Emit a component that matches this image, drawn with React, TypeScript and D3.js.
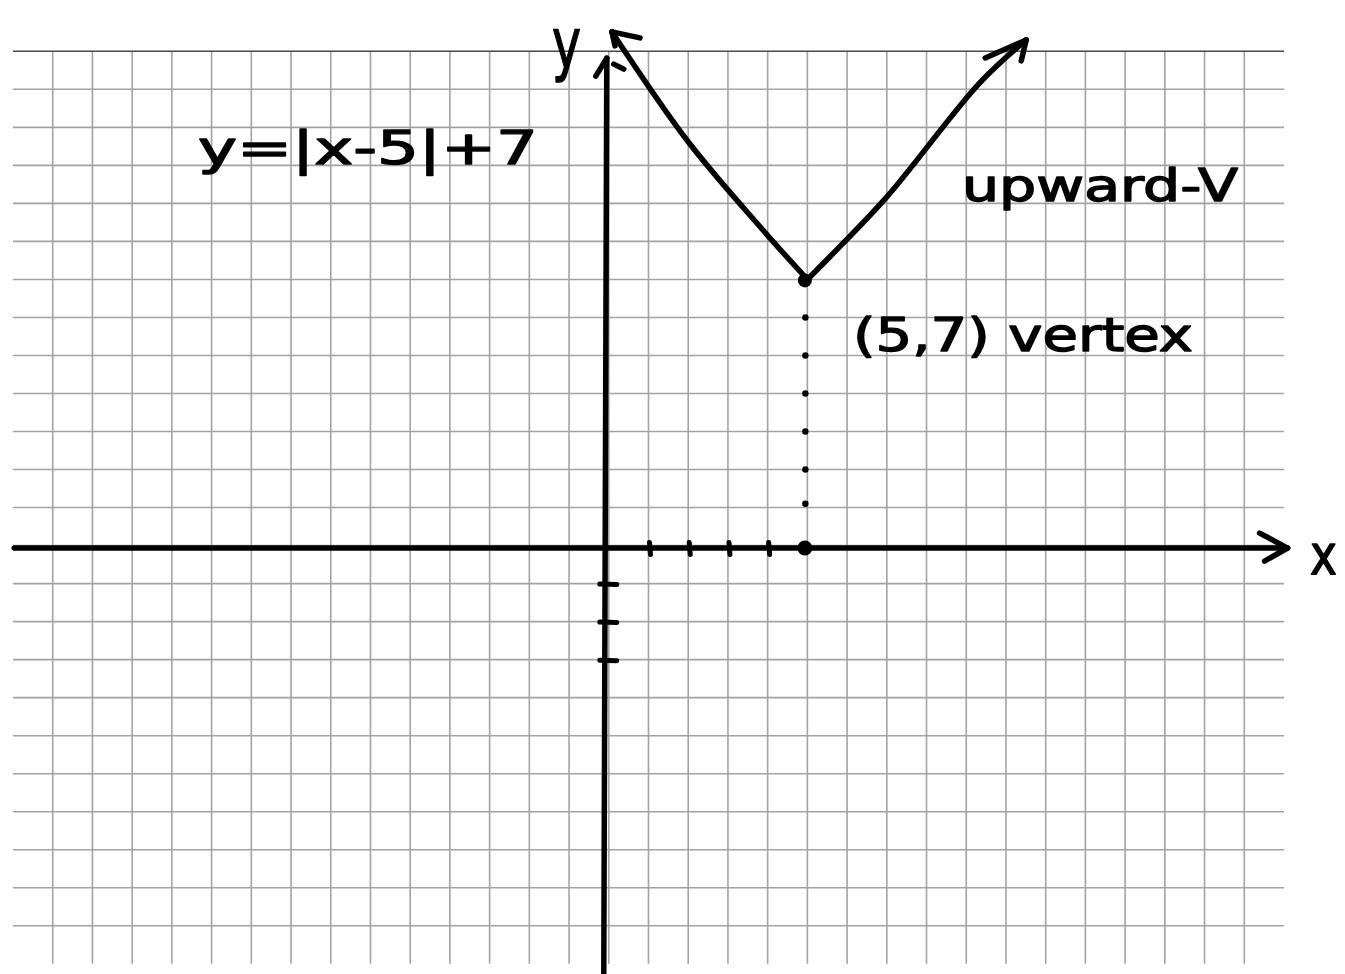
import React from "react";
import * as d3 from "d3";

const W = 1345;
const H = 974;

// grid / coordinate ranges (one grid cell = 1 unit)
const xDomain: [number, number] = [-15, 17];
const yDomain: [number, number] = [-11, 13];
const gridXs = d3.range(-14, 17); // vertical grid lines
const gridYs = d3.range(-10, 14); // horizontal grid lines

// the hand-drawn V of y = |x-5| + 7
const vertex: [number, number] = [5, 7];
const leftArm: [number, number][] = [
  [5, 7],
  [3.88, 8.3],
  [2.0, 10.62],
  [0.08, 13.51],
];
const rightArm: [number, number][] = [
  [5, 7],
  [5.56, 7.59],
  [7.0, 9.17],
  [9.34, 12.17],
  [10.51, 13.3],
];

// axes extents
const xAxisExtent: [number, number] = [-14.97, 17.09];
const yAxisExtent: [number, number] = [-11.3, 12.82];

// tick marks
const xTicks = [1, 2, 3, 4];
const yTicks = [-1, -2, -3];
const dropDots = [6, 5, 4, 3, 2, 1.1];

// labels
const equationLabel = "y=|x-5|+7";
const shapeLabel = "upward-V";
const vertexLabel = "(5,7) vertex";
const xAxisLabel = "x";
const yAxisLabel = "y";

const FONT = "'DejaVu Sans', 'Noto Sans', sans-serif";

export default function App() {
  const x = d3.scaleLinear().domain(xDomain).range([13, 1284]);
  const y = d3.scaleLinear().domain(yDomain).range([963.8, 51.3]);

  const line = d3
    .line<[number, number]>()
    .x((d) => x(d[0]))
    .y((d) => y(d[1]))
    .curve(d3.curveCatmullRom.alpha(0.5));

  const stroke = "#000";
  const sw = 5.5;

  const leftTip = leftArm[leftArm.length - 1];
  const rightTip = rightArm[rightArm.length - 1];
  const lt = [x(leftTip[0]), y(leftTip[1])];
  const rt = [x(rightTip[0]), y(rightTip[1])];
  const yTop = [x(0) - 2, y(yAxisExtent[1])];
  const xEnd = [x(xAxisExtent[1]), y(0) + 2.5];

  const barb = (tip: number[], dx: number, dy: number, key: string) => (
    <line
      key={key}
      x1={tip[0]}
      y1={tip[1]}
      x2={tip[0] + dx}
      y2={tip[1] + dy}
      stroke={stroke}
      strokeWidth={sw}
      strokeLinecap="round"
    />
  );

  return (
    <div style={{ position: "absolute", left: 0, top: 0 }}>
      <svg width={W} height={H} style={{ display: "block", background: "#fff" }}>
        <rect width={W} height={H} fill="#fff" />
        {/* grid */}
        <g>
          {gridXs.map((gx) => (
            <line
              key={"gx" + gx}
              x1={x(gx)}
              x2={x(gx)}
              y1={y(yDomain[1])}
              y2={y(yDomain[0])}
              stroke="#a3a3a3"
              strokeWidth={1.6}
            />
          ))}
          {gridYs.map((gy) => (
            <line
              key={"gy" + gy}
              x1={x(xDomain[0])}
              x2={x(xDomain[1])}
              y1={y(gy)}
              y2={y(gy)}
              stroke={gy === yDomain[1] ? "#4a4a4a" : "#a3a3a3"}
              strokeWidth={1.6}
            />
          ))}
        </g>

        {/* x axis */}
        <line
          x1={x(xAxisExtent[0])}
          x2={xEnd[0]}
          y1={y(0) + 2.5}
          y2={y(0) + 2.5}
          stroke={stroke}
          strokeWidth={sw}
          strokeLinecap="round"
        />
        {barb(xEnd, -28, -15, "xb1")}
        {barb(xEnd, -23, 13, "xb2")}

        {/* y axis */}
        <line
          x1={yTop[0]}
          y1={yTop[1]}
          x2={x(0) - 5}
          y2={y(yAxisExtent[0])}
          stroke={stroke}
          strokeWidth={sw}
          strokeLinecap="round"
        />
        {barb(yTop, -11, 18, "yb1")}
        {barb([yTop[0] + 7, yTop[1] + 6], 10, 5, "yb2")}

        {/* ticks */}
        {xTicks.map((t) => (
          <line
            key={"xt" + t}
            x1={x(t) + 1}
            x2={x(t) + 2}
            y1={y(0) - 3}
            y2={y(0) + 9}
            stroke={stroke}
            strokeWidth={5}
            strokeLinecap="round"
          />
        ))}
        {yTicks.map((t) => (
          <line
            key={"yt" + t}
            x1={x(0) - 9}
            x2={x(0) + 8}
            y1={y(t) + 0.5}
            y2={y(t) + 1}
            stroke={stroke}
            strokeWidth={5}
            strokeLinecap="round"
          />
        ))}

        {/* dotted drop line from vertex */}
        {dropDots.map((d) => (
          <circle key={"dd" + d} cx={x(vertex[0]) - 2} cy={y(d)} r={3.2} fill={stroke} />
        ))}

        {/* V graph */}
        <path
          d={line(leftArm) || ""}
          fill="none"
          stroke={stroke}
          strokeWidth={sw}
          strokeLinecap="round"
          strokeLinejoin="round"
        />
        <path
          d={line(rightArm) || ""}
          fill="none"
          stroke={stroke}
          strokeWidth={sw}
          strokeLinecap="round"
          strokeLinejoin="round"
        />
        {barb(lt, 28, 6, "lb1")}
        {barb(lt, 3, 14, "lb2")}
        {barb(rt, -41, 18, "rb1")}
        {barb(rt, -5, 21, "rb2")}

        {/* vertex dots */}
        <circle cx={x(vertex[0]) - 2.5} cy={y(vertex[1]) + 1} r={7} fill={stroke} />
        <circle cx={x(vertex[0]) - 2.5} cy={y(0) + 2.5} r={7.5} fill={stroke} />

        {/* labels */}
        <g fill={stroke} stroke={stroke} strokeWidth={1.4} strokeLinejoin="round" fontFamily={FONT}>
          <text x={198} y={164} fontSize={46} textLength={340} lengthAdjust="spacingAndGlyphs">
            {equationLabel}
          </text>
          <text x={962} y={201} fontSize={44} textLength={276} lengthAdjust="spacingAndGlyphs">
            {shapeLabel}
          </text>
          <text x={853} y={351} fontSize={46} textLength={340} lengthAdjust="spacingAndGlyphs">
            {vertexLabel}
          </text>
          <text x={1310} y={574} fontSize={56} textLength={27} lengthAdjust="spacingAndGlyphs">
            {xAxisLabel}
          </text>
          <text x={552} y={68} fontSize={70} textLength={29} lengthAdjust="spacingAndGlyphs">
            {yAxisLabel}
          </text>
        </g>
      </svg>
    </div>
  );
}
